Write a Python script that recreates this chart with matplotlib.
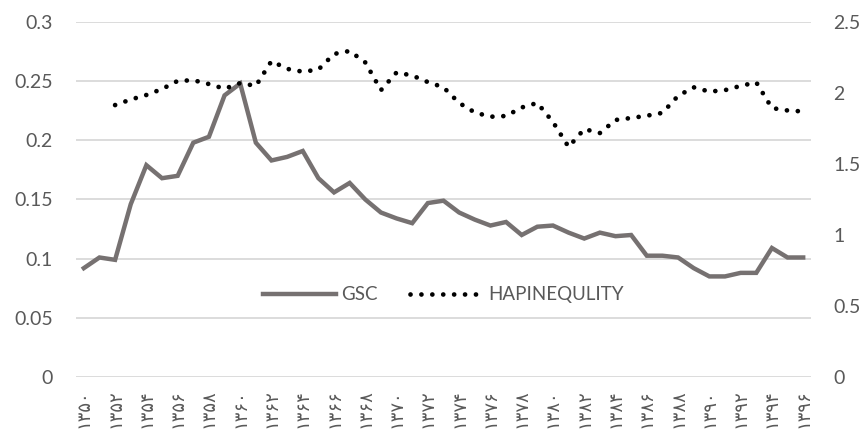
import matplotlib
matplotlib.use("Agg")
import matplotlib.pyplot as plt
import numpy as np

years = list(range(1350, 1397))
gsc = [0.092, 0.101, 0.099, 0.146, 0.179, 0.168, 0.170, 0.198, 0.203, 0.238,
       0.248, 0.198, 0.183, 0.186, 0.191, 0.168, 0.156, 0.164, 0.150, 0.139,
       0.134, 0.130, 0.147, 0.149, 0.139, 0.133, 0.128, 0.131, 0.120, 0.127,
       0.128, 0.122, 0.117, 0.122, 0.119, 0.120, 0.1025, 0.1025, 0.101, 0.092,
       0.085, 0.085, 0.088, 0.088, 0.109, 0.101, 0.101]
hap = [np.nan, np.nan, 1.915, 1.954, 1.986, 2.028, 2.085, 2.09, 2.063, 2.03,
       2.07, 2.05, 2.225, 2.17, 2.15, 2.165, 2.275, 2.296, 2.215, 2.02,
       2.145, 2.123, 2.077, 2.04, 1.93, 1.863, 1.833, 1.838, 1.898, 1.93,
       1.796, 1.62, 1.746, 1.718, 1.81, 1.824, 1.84, 1.86, 1.98, 2.04,
       2.01, 2.02, 2.05, 2.075, 1.894, 1.877, 1.87]
left_ticks = [0, 0.05, 0.1, 0.15, 0.2, 0.25, 0.3]
left_labels = ["0", "0.05", "0.1", "0.15", "0.2", "0.25", "0.3"]
right_ticks = [0, 0.5, 1, 1.5, 2, 2.5]
right_labels = ["0", "0.5", "1", "1.5", "2", "2.5"]

persian = str.maketrans("0123456789", "۰۱۲۳۴۵۶۷۸۹")
xlabels = [str(y).translate(persian) for y in years]

plt.rcParams['font.family'] = ['Lato', 'DejaVu Sans']
fig = plt.figure(figsize=(8.65, 4.38), dpi=100)
ax = fig.add_axes([76/865, 1-377/438, (811-76)/865, (377-22)/438])
ax2 = ax.twinx()

x = np.arange(len(years))
l1, = ax.plot(x, gsc, color="#767171", lw=3.2, solid_joinstyle='miter', label="GSC")
l2, = ax2.plot(x, hap, color="black", lw=3.4, ls=(0, (0.01, 2.3)),
               dash_capstyle='round', label="HAPINEQULITY")

ax.set_xlim(-0.5, len(years) - 0.5)
ax.set_ylim(0, 0.3)
ax2.set_ylim(0, 2.5)
ax.set_yticks(left_ticks)
ax.set_yticklabels(left_labels)
ax2.set_yticks(right_ticks)
ax2.set_yticklabels(right_labels)
ax.grid(axis='y', color="#d9d9d9", lw=1.3)
ax.set_axisbelow(True)
for a in (ax, ax2):
    for s in a.spines.values():
        s.set_visible(False)
    a.tick_params(length=0, labelsize=14, colors="#595959")
ax.tick_params(axis='y', pad=16.5)
ax2.tick_params(axis='y', pad=16)

ax.set_xticks(x[::2])
ax.set_xticklabels(xlabels[::2], rotation=90, fontsize=13,
                   family=['DejaVu Sans', 'Noto Sans'], color="#595959")
ax.tick_params(axis='x', pad=9)

leg = ax.legend(handles=[l1, l2], loc='center', bbox_to_anchor=(0.5, 0.231),
                ncol=2, frameon=False, fontsize=13.5, handlelength=3.9,
                columnspacing=1.7, handletextpad=0.3)
for t in leg.get_texts():
    t.set_color("#595959")

fig.savefig("out.png", dpi=100)
